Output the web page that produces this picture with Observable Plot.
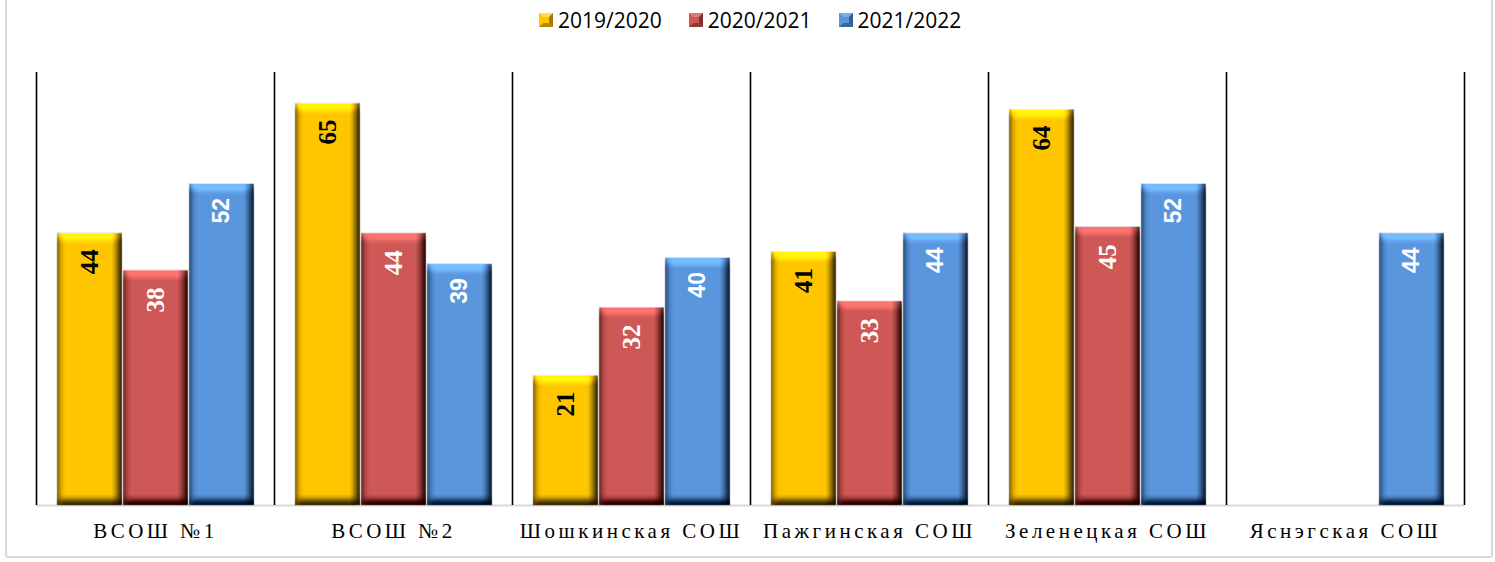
<!DOCTYPE html>
<html><head><meta charset="utf-8">
<script src="https://cdn.jsdelivr.net/npm/d3@7"></script>
<script src="https://cdn.jsdelivr.net/npm/@observablehq/plot@0.6"></script>
<style>
body{margin:0;background:#fff;}
#wrap{position:relative;width:1495px;height:562px;overflow:hidden;background:#fff;}
#border{position:absolute;left:5px;top:-3px;width:1488px;height:561px;border:2px solid #d9d9d9;border-radius:3px;pointer-events:none;box-sizing:border-box;}
#legend{position:absolute;top:6px;left:539px;display:flex;align-items:center;font-family:"Open Sans";font-size:21px;color:#000;white-space:nowrap;}
.item{display:flex;align-items:center;margin-right:27px;}
.sw{width:14px;height:14px;margin-right:5px;display:block;}
g[aria-label^="fx-axis"] text{font-family:"Liberation Serif";font-size:21px;letter-spacing:3.5px;fill:#000;}
</style></head>
<body>
<svg width="0" height="0" style="position:absolute">
<defs>
<linearGradient id="g0" x1="0" x2="1" y1="0" y2="0">
<stop offset="0" stop-color="#C89700"/><stop offset="0.06" stop-color="#FFC600"/><stop offset="0.84" stop-color="#FFC600"/><stop offset="0.93" stop-color="#A88200"/><stop offset="1" stop-color="#4d3b00"/>
</linearGradient>
<linearGradient id="g1" x1="0" x2="1" y1="0" y2="0">
<stop offset="0" stop-color="#A84341"/><stop offset="0.06" stop-color="#CD5855"/><stop offset="0.84" stop-color="#CD5855"/><stop offset="0.93" stop-color="#8A3836"/><stop offset="1" stop-color="#3d1817"/>
</linearGradient>
<linearGradient id="g2" x1="0" x2="1" y1="0" y2="0">
<stop offset="0" stop-color="#477BB8"/><stop offset="0.06" stop-color="#5A96DD"/><stop offset="0.84" stop-color="#5A96DD"/><stop offset="0.93" stop-color="#3B6699"/><stop offset="1" stop-color="#1a2f4a"/>
</linearGradient>
<filter id="bevel" color-interpolation-filters="sRGB" x="-10%" y="-5%" width="120%" height="110%">
<feGaussianBlur in="SourceAlpha" stdDeviation="4" result="blur"/>
<feDiffuseLighting in="blur" surfaceScale="7" diffuseConstant="1" lighting-color="#ffffff" result="light">
<feDistantLight azimuth="270" elevation="50"/>
</feDiffuseLighting>
<feComposite in="SourceGraphic" in2="light" operator="arithmetic" k1="0.783" k2="0.4" k3="0.2" k4="-0.153" result="lit"/>
<feComposite in="lit" in2="SourceAlpha" operator="in"/>
</filter>
</defs>
</svg>
<div id="wrap"><div id="legend"></div><div id="border"></div></div>
<script>
const cats = ["ВСОШ №1", "ВСОШ №2", "Шошкинская СОШ", "Пажгинская СОШ", "Зеленецкая СОШ", "Яснэгская СОШ"];
const series = ["2019/2020", "2020/2021", "2021/2022"];
const v2019 = [44, 65, 21, 41, 64, null];
const v2020 = [38, 44, 32, 33, 45, null];
const v2021 = [52, 39, 40, 44, 52, 44];
const yTicks = [0, 70];

const baseColors = ["#FFC600", "#CD5855", "#5A96DD"];
const lightColors = ["#FFDA4D", "#E27B78", "#7AADEA"];
const darkColors = ["#9E7A00", "#7E3331", "#345C8C"];
const labelFill = ["#000", "#fff", "#fff"];
const labelFont = ["Liberation Serif", "Liberation Serif", "Liberation Sans"];
const labelSize = [25, 25, 23];
const labelDy = [16, 17, 14];

const W = 1495, H = 562, ML = 36, MR = 31, MT = 72, MB = 57;
const fxStep = (W - ML - MR) / cats.length;

const data = [];
[v2019, v2020, v2021].forEach((vals, i) => {
  cats.forEach((c, j) => { if (vals[j] != null) data.push({cat: c, series: series[i], value: vals[j]}); });
});

const marks = [];
marks.push(Plot.ruleY([0], {stroke: "#d9d9d9", strokeWidth: 2}));
series.forEach((s, i) => {
  const sub = data.filter(d => d.series === s);
  marks.push(Plot.barY(sub, {fx: "cat", x: "series", y: "value", fill: `url(#g${i})`, stroke: "#e2e2e2", strokeWidth: 0.7}));
});
series.forEach((s, i) => {
  const sub = data.filter(d => d.series === s);
  marks.push(Plot.text(sub, {fx: "cat", x: "series", y: "value", text: d => String(d.value), rotate: -90, textAnchor: "end", lineAnchor: "middle", dy: labelDy[i], fill: labelFill[i], fontFamily: labelFont[i], fontSize: labelSize[i], fontWeight: "bold"}));
});
marks.push(Plot.ruleX(cats, {fx: d => d, x: null, dx: -fxStep / 2, stroke: "#000", strokeWidth: 1.6}));
marks.push(Plot.ruleX(cats.slice(-1), {fx: d => d, x: null, dx: fxStep / 2, stroke: "#000", strokeWidth: 1.6}));

const chart = Plot.plot({
  width: W, height: H, marginLeft: ML, marginRight: MR, marginTop: MT, marginBottom: MB,
  fx: {domain: cats, padding: 0, label: null, tickSize: 0, tickPadding: 18, axis: "bottom"},
  x: {domain: series, axis: null, paddingInner: 0.02, paddingOuter: 0.3},
  y: {domain: [yTicks[0], yTicks[yTicks.length - 1]], axis: null},
  style: {background: "transparent", overflow: "visible"},
  marks
});
chart.style.position = "absolute";
chart.style.left = "0";
chart.style.top = "0";
d3.select(chart).selectAll('g[aria-label="bar"] rect').attr("filter", "url(#bevel)");
document.getElementById("wrap").prepend(chart);

const legend = document.getElementById("legend");
series.forEach((s, i) => {
  const item = document.createElement("div");
  item.className = "item";
  item.innerHTML = `<svg class="sw" viewBox="0 0 14 14">
    <rect width="14" height="14" fill="${baseColors[i]}"/>
    <polygon points="0,0 14,0 10,4 4,4" fill="${lightColors[i]}"/>
    <polygon points="14,0 14,14 10,10 10,4" fill="${darkColors[i]}"/>
    <polygon points="0,14 14,14 10,10 4,10" fill="${darkColors[i]}" opacity="0.8"/>
    <polygon points="0,0 0,14 4,10 4,4" fill="${baseColors[i]}"/>
  </svg><span>${s}</span>`;
  legend.appendChild(item);
});
</script>
</body></html>
